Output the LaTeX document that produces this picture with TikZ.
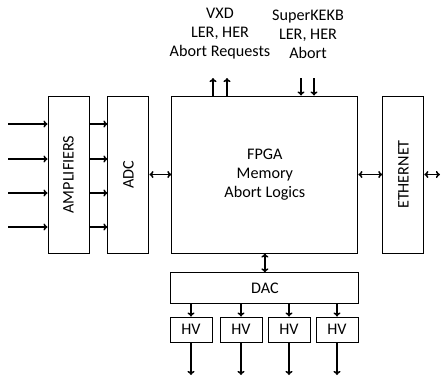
\documentclass[tikz,border=0pt]{standalone}
\usepackage{fontspec}
\setmainfont{Carlito}
\usetikzlibrary{arrows.meta, positioning}
\tikzset{
  blk/.style={rectangle, draw, line width=0.8pt, align=center,
              inner sep=0pt, font=\fontsize{13.8}{16.2}\selectfont},
  tall/.style={blk, minimum width=1.23cm, minimum height=4.71cm},
  hvb/.style={blk, minimum width=1.26cm, minimum height=0.75cm},
  sig/.style={-{To[length=3.5pt, width=6pt]}, line width=1.3pt},
  bisig/.style={{To[length=3.5pt, width=6pt]}-{To[length=3.5pt, width=6pt]}, line width=1.3pt},
  lbl/.style={align=center, font=\fontsize{13.8}{16.2}\selectfont},
}

\begin{document}
\begin{tikzpicture}[x=0.03cm, y=-0.03cm]
  \useasboundingbox (0,0) rectangle (442,378);

  \node[tall] (amp) at (68.5,174.5) {\rotatebox{90}{AMPLIFIERS}};
  \node[tall, right=0.54cm of amp] (adc) {\rotatebox{90}{ADC}};
  \node[blk, minimum width=5.58cm, minimum height=4.71cm, right=0.66cm of adc] (fpga)
    {FPGA\\Memory\\Abort Logics};
  \node[tall, right=0.72cm of fpga] (eth) {\rotatebox{90}{ETHERNET}};
  \node[blk, minimum width=5.64cm, minimum height=0.93cm, below=0.57cm of fpga] (dac) {DAC};

  \foreach \x [count=\i] in {191,241,289,337}
    \node[hvb] (hv\i) at (\x,329.5) {HV};

  \node[lbl] (vxd) at (220,34) {VXD\\LER, HER\\Abort Requests};
  \node[lbl] (kekb) at (308,34) {SuperKEKB\\LER, HER\\Abort};

  % free ends
  \coordinate (up1) at (213,78);
  \coordinate (up2) at (227,78);
  \coordinate (dn1) at (301,78);
  \coordinate (dn2) at (314,78);
  \coordinate (net) at (440,174.5);
  \coordinate (out) at (0,375);

  \foreach \y [count=\i] in {124,159,193,227} {
    \coordinate (in\i) at (8,\y);
    \draw[sig] (in\i) -- (in\i -| amp.west);
    \draw[sig] (in\i -| amp.east) -- (in\i -| adc.west);
  }

  \draw[bisig] (adc.east) -- (fpga.west);
  \draw[bisig] (fpga.east) -- (eth.west);
  \draw[bisig] (eth.east) -- (net);
  \draw[bisig] (fpga.south) -- (dac.north);

  \draw[sig] (up1 |- fpga.north) -- (up1);
  \draw[sig] (up2 |- fpga.north) -- (up2);
  \draw[sig] (dn1) -- (dn1 |- fpga.north);
  \draw[sig] (dn2) -- (dn2 |- fpga.north);

  \foreach \i in {1,...,4} {
    \draw[sig] (dac.south -| hv\i.north) -- (hv\i.north);
    \draw[sig] (hv\i.south) -- (hv\i.south |- out);
  }

\end{tikzpicture}
\end{document}
